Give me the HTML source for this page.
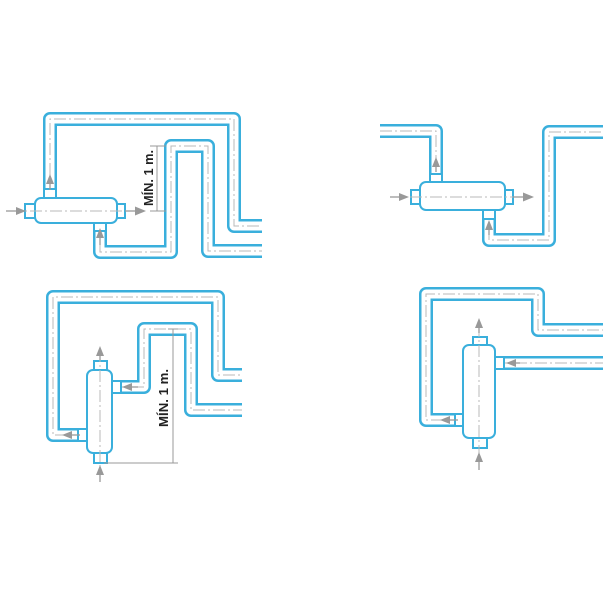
<!DOCTYPE html>
<html><head><meta charset="utf-8"><style>
html,body{margin:0;padding:0;background:#fff;}
svg{display:block;}
.po{fill:none;stroke:#3aafdc;stroke-width:14;stroke-linejoin:round;}
.pi{fill:none;stroke:#fff;stroke-width:9;stroke-linejoin:round;}
.pc{fill:none;stroke:#b8b8b8;stroke-width:1;stroke-dasharray:12 3 2 3;}
.h{fill:#fff;stroke:#3aafdc;stroke-width:2;}
.ar{stroke:#999;stroke-width:1.3;fill:none;}
.ah{fill:#999;}
.dim{stroke:#999;stroke-width:1;fill:none;}
.t{font-family:"Liberation Sans",sans-serif;font-weight:bold;font-size:13px;fill:#222;}
</style></head><body>
<svg width="603" height="603" viewBox="0 0 603 603">
<!-- Diagram 1 -->
<g>
<path class="po" d="M50 195 V119 H234 V226 H262"/>
<path class="pi" d="M50 195 V119 H234 V226 H262"/>
<path class="pc" d="M50 195 V119 H234 V226 H262"/>
<path class="po" d="M100 222 V252 H171 V146 H208 V251 H262"/>
<path class="pi" d="M100 222 V252 H171 V146 H208 V251 H262"/>
<path class="pc" d="M100 222 V252 H171 V146 H208 V251 H262"/>
<rect class="h" x="44" y="189" width="12" height="10"/>
<rect class="h" x="94" y="221" width="12" height="10"/>
<rect class="h" x="25" y="204" width="11" height="14"/>
<rect class="h" x="116" y="204" width="9" height="14"/>
<rect class="h" x="35" y="198" width="82" height="25" rx="6"/>
<line class="pc" x1="10" y1="211" x2="140" y2="211"/>
<line class="ar" x1="6" y1="211" x2="18" y2="211"/><polygon class="ah" points="26,211 16,207 16,215"/>
<line class="ar" x1="125" y1="211" x2="136" y2="211"/><polygon class="ah" points="146,211 135,206.5 135,215.5"/>
<line class="ar" x1="50" y1="190" x2="50" y2="182"/><polygon class="ah" points="50,174 46,184 54,184"/>
<line class="ar" x1="100" y1="245" x2="100" y2="236"/><polygon class="ah" points="100,228 96,238 104,238"/>
<line class="dim" x1="157" y1="146" x2="157" y2="211"/>
<line class="dim" x1="150" y1="146" x2="166" y2="146"/>
<line class="dim" x1="150" y1="211" x2="166" y2="211"/>
<text class="t" transform="translate(153,178) rotate(-90)" text-anchor="middle" textLength="56" lengthAdjust="spacingAndGlyphs">MÍN. 1 m.</text>
</g>
<!-- Diagram 2 -->
<g>
<path class="po" d="M380 131 H436 V182"/>
<path class="pi" d="M380 131 H436 V182"/>
<path class="pc" d="M380 131 H436 V182"/>
<path class="po" d="M489 208 V240 H549 V132 H603"/>
<path class="pi" d="M489 208 V240 H549 V132 H603"/>
<path class="pc" d="M489 208 V240 H549 V132 H603"/>
<rect class="h" x="430" y="174" width="12" height="9"/>
<rect class="h" x="483" y="209" width="12" height="10"/>
<rect class="h" x="411" y="190" width="10" height="14"/>
<rect class="h" x="504" y="190" width="9" height="14"/>
<rect class="h" x="420" y="182" width="85" height="28" rx="6"/>
<line class="pc" x1="390" y1="197" x2="530" y2="197"/>
<line class="ar" x1="390" y1="197" x2="400" y2="197"/><polygon class="ah" points="409,197 399,193 399,201"/>
<line class="ar" x1="513" y1="197" x2="524" y2="197"/><polygon class="ah" points="534,197 523,192.5 523,201.5"/>
<line class="ar" x1="436" y1="172" x2="436" y2="165"/><polygon class="ah" points="436,157 432,167 440,167"/>
<line class="ar" x1="489" y1="235" x2="489" y2="228"/><polygon class="ah" points="489,220 485,230 493,230"/>
</g>
<!-- Diagram 3 -->
<g>
<path class="po" d="M87 435 H53 V297 H218 V375 H242"/>
<path class="pi" d="M87 435 H53 V297 H218 V375 H242"/>
<path class="pc" d="M87 435 H53 V297 H218 V375 H242"/>
<path class="po" d="M112 387 H144 V329 H191 V410 H242"/>
<path class="pi" d="M112 387 H144 V329 H191 V410 H242"/>
<path class="pc" d="M112 387 H144 V329 H191 V410 H242"/>
<rect class="h" x="111" y="381" width="10" height="12"/>
<rect class="h" x="78" y="429" width="10" height="12"/>
<rect class="h" x="94" y="361" width="13" height="10"/>
<rect class="h" x="94" y="452" width="13" height="11"/>
<rect class="h" x="87" y="370" width="25" height="83" rx="6"/>
<line class="pc" x1="100" y1="350" x2="100" y2="470"/>
<line class="ar" x1="100" y1="360" x2="100" y2="354"/><polygon class="ah" points="100,346 96,356 104,356"/>
<line class="ar" x1="100" y1="482" x2="100" y2="473"/><polygon class="ah" points="100,465 96,475 104,475"/>
<line class="ar" x1="138" y1="387" x2="130" y2="387"/><polygon class="ah" points="122,387 132,383 132,391"/>
<line class="ar" x1="80" y1="435" x2="72" y2="435"/><polygon class="ah" points="62,435 72,431 72,439"/>
<line class="dim" x1="173" y1="329" x2="173" y2="463"/>
<line class="dim" x1="104" y1="463" x2="178" y2="463"/>
<line class="dim" x1="168" y1="329" x2="178" y2="329"/>
<text class="t" transform="translate(168,398) rotate(-90)" text-anchor="middle" textLength="58" lengthAdjust="spacingAndGlyphs">MÍN. 1 m.</text>
</g>
<!-- Diagram 4 -->
<g>
<path class="po" d="M463 420 H426 V294 H538 V330 H603"/>
<path class="pi" d="M463 420 H426 V294 H538 V330 H603"/>
<path class="pc" d="M463 420 H426 V294 H538 V330 H603"/>
<path class="po" d="M495 363 H603"/>
<path class="pi" d="M495 363 H603"/>
<path class="pc" d="M495 363 H603"/>
<rect class="h" x="494" y="357" width="10" height="12"/>
<rect class="h" x="455" y="414" width="9" height="12"/>
<rect class="h" x="473" y="337" width="14" height="9"/>
<rect class="h" x="473" y="437" width="14" height="11"/>
<rect class="h" x="463" y="345" width="32" height="93" rx="6"/>
<line class="pc" x1="479" y1="325" x2="479" y2="455"/>
<line class="ar" x1="479" y1="333" x2="479" y2="327"/><polygon class="ah" points="479,318 475,328 483,328"/>
<line class="ar" x1="479" y1="470" x2="479" y2="461"/><polygon class="ah" points="479,452 475,462 483,462"/>
<line class="ar" x1="520" y1="363" x2="514" y2="363"/><polygon class="ah" points="506,363 516,359 516,367"/>
<line class="ar" x1="458" y1="420" x2="450" y2="420"/><polygon class="ah" points="440,420 450,416 450,424"/>
</g>
</svg>
</body></html>
